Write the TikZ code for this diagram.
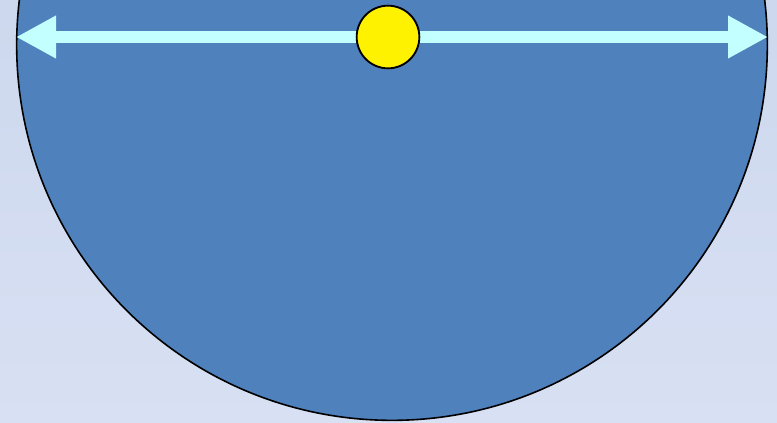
\documentclass[tikz,border=0pt]{standalone}
\usetikzlibrary{arrows.meta}
\definecolor{bgtop}{RGB}{205,216,238}
\definecolor{bgbot}{RGB}{216,224,243}
\definecolor{disc}{RGB}{79,129,189}
\definecolor{ray}{RGB}{196,255,255}
\tikzset{
  disk/.style={circle,draw=black,line width=1.2pt,fill=disc,inner sep=0pt},
  ball/.style={circle,draw=black,line width=1.4pt,fill=yellow,inner sep=0pt},
  ray/.style={draw=ray,line width=9pt,{Triangle[length=30pt,width=30pt]}-{Triangle[length=30pt,width=30pt]}}
}
\begin{document}
\begin{tikzpicture}[x=0.75pt,y=-0.75pt]
        \shade[top color=bgtop,bottom color=bgbot] (0,0) rectangle (777,422);
        \useasboundingbox (0,0) rectangle (777,422);
        \node[disk,minimum size=563pt] (Earth) at (392,45){};
        \coordinate (L) at (16,37);
        \coordinate (R) at (768,37);

        \draw[ray] (L) -- (R);
        \node[ball,minimum size=47pt] (Sun) at (388,37){};
      \end{tikzpicture}
\end{document}
